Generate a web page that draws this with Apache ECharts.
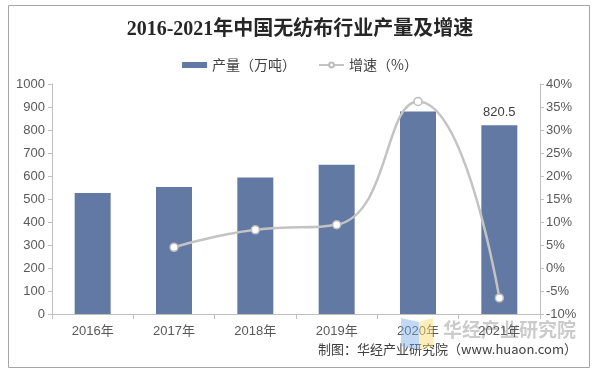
<!DOCTYPE html>
<html><head><meta charset="utf-8">
<script src="https://cdn.jsdelivr.net/npm/echarts@6/dist/echarts.min.js"></script>
<style>html,body{margin:0;padding:0;background:#fff}#c{width:600px;height:374px}</style>
</head><body><div id="c"></div>
<script>
const categories = ['2016年','2017年','2018年','2019年','2020年','2021年'];
const output = [526, 552, 594, 649, 880, 820.5];
const growth = [null, 4.5, 8.3, 9.4, 36.2, -6.5];
const leftTicks = [0, 1000, 100];
const rightTicks = [-10, 40, 5];

const chart = echarts.init(document.getElementById('c'), null, {renderer:'canvas'});
chart.setOption({
  backgroundColor:'#fff',
  animation:false,
  title:{
    text:'2016-2021年中国无纺布行业产量及增速',
    left:'center', top:15,
    textStyle:{fontFamily:'"Liberation Serif","Noto Sans CJK SC",serif', fontWeight:'bold', fontSize:20, color:'#262626'}
  },
  legend:{
    top:53, left:'center', itemGap:22, itemWidth:25, itemHeight:6,
    textStyle:{fontFamily:'"Noto Sans CJK SC",sans-serif', fontSize:14, color:'#404040'},
    data:[{name:'产量（万吨）', icon:'rect'},{name:'增速（%）'}]
  },
  grid:{left:52, right:60, top:84, bottom:60},
  xAxis:{
    type:'category', data:categories,
    axisLine:{lineStyle:{color:'#bfbfbf'}},
    axisTick:{show:true, alignWithLabel:false, length:5, lineStyle:{color:'#bfbfbf'}},
    axisLabel:{color:'#595959', fontSize:13, fontFamily:'"Liberation Sans","Noto Sans CJK SC",sans-serif', margin:11}
  },
  yAxis:[{
    type:'value', min:leftTicks[0], max:leftTicks[1], interval:leftTicks[2],
    axisLine:{show:true, lineStyle:{color:'#bfbfbf'}},
    axisTick:{show:true, length:4, lineStyle:{color:'#bfbfbf'}},
    splitLine:{show:false},
    axisLabel:{color:'#595959', fontSize:13, fontFamily:'"Liberation Sans",Arial,sans-serif', margin:7, formatter:v=>String(v)}
  },{
    type:'value', min:rightTicks[0], max:rightTicks[1], interval:rightTicks[2],
    axisLine:{show:true, lineStyle:{color:'#bfbfbf'}},
    axisTick:{show:true, length:4, lineStyle:{color:'#bfbfbf'}},
    splitLine:{show:false},
    axisLabel:{color:'#595959', fontSize:13, fontFamily:'"Liberation Sans",Arial,sans-serif', margin:6, formatter:'{value}%'}
  }],
  series:[{
    name:'产量（万吨）', type:'bar', data:output.map((v,i)=> i===output.length-1 ? {value:v, label:{show:true}} : v),
    barWidth:36, itemStyle:{color:'#6279a3'},
    label:{show:false, position:'top', color:'#404040', fontSize:13, fontFamily:'"Liberation Sans",Arial,sans-serif', distance:6}
  },{
    name:'增速（%）', type:'line', yAxisIndex:1, data:growth, smooth:0.5,
    symbol:'circle', symbolSize:8, connectNulls:false,
    lineStyle:{color:'#c3c3c3', width:2.5},
    itemStyle:{color:'#ffffff', borderColor:'#bcbcbc', borderWidth:1.5}
  }],
  graphic:[
    {type:'rect', shape:{x:8.5, y:5.5, width:581, height:362}, style:{fill:'none', stroke:'#a6a6a6', lineWidth:1}, z:-1},
    {type:'text', left:443, top:320, style:{text:'华经产业研究院', fill:'rgba(160,160,160,0.55)', font:'bold 19px "Noto Sans CJK SC",sans-serif'}, z:-1},
    {type:'polygon', shape:{points:[[401,318],[419,322],[419,350],[401,346]]}, style:{fill:'rgba(120,170,235,0.45)'}, z:10},
    {type:'polygon', shape:{points:[[419,322],[433,318],[433,346],[419,350]]}, style:{fill:'rgba(250,220,120,0.5)'}, z:10},
    {type:'text', right:23, top:343, style:{text:'制图：华经产业研究院（www.huaon.com）', fill:'#404040', font:'13px "Noto Sans CJK SC",sans-serif'}}
  ]
});
</script></body></html>
